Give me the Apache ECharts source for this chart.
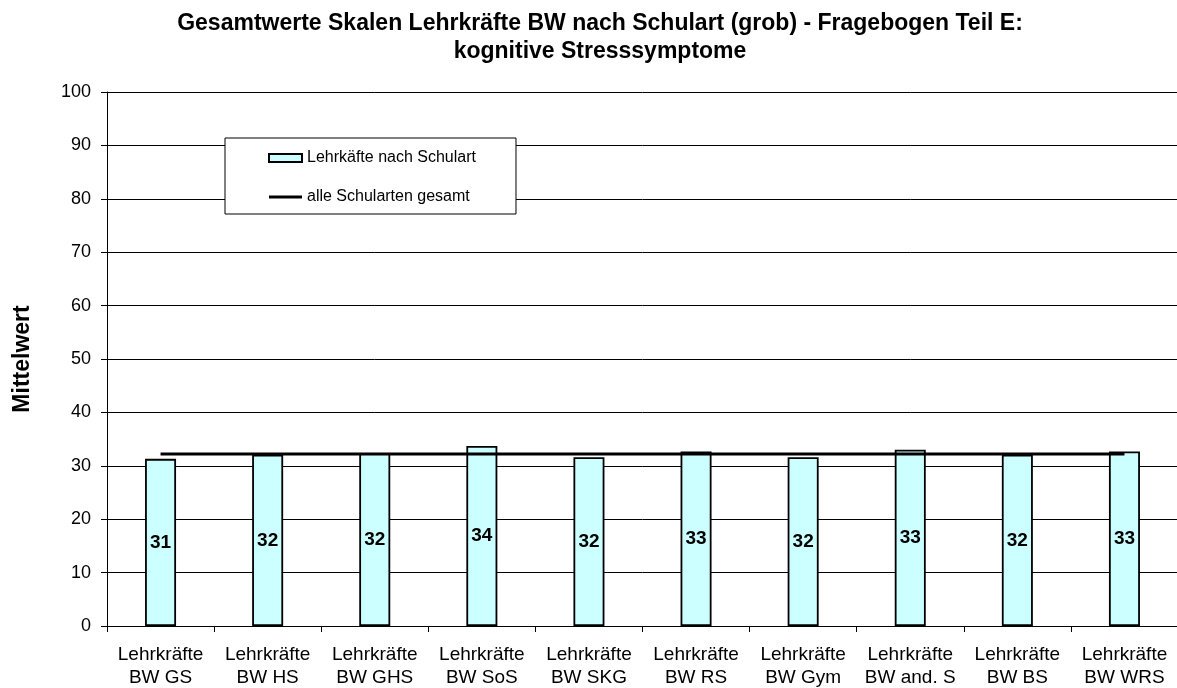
<!DOCTYPE html>
<html>
<head>
<meta charset="utf-8">
<script src="https://cdn.jsdelivr.net/npm/echarts@6/dist/echarts.min.js"></script>
<style>
  html, body { margin: 0; padding: 0; background: #fff; }
  #chart { width: 1177px; height: 688px; }
</style>
</head>
<body>
<div id="chart"></div>
<script>
// data
var categories = [
  'Lehrkräfte\nBW GS', 'Lehrkräfte\nBW HS', 'Lehrkräfte\nBW GHS', 'Lehrkräfte\nBW SoS',
  'Lehrkräfte\nBW SKG', 'Lehrkräfte\nBW RS', 'Lehrkräfte\nBW Gym', 'Lehrkräfte\nBW and. S',
  'Lehrkräfte\nBW BS', 'Lehrkräfte\nBW WRS'
];
var schulartWerte = [31.3, 32.1, 32.4, 33.7, 31.6, 32.7, 31.6, 33.0, 32.1, 32.7];
var gesamtWert = 32.2;
var gesamtLinie = categories.map(function () { return gesamtWert; });

var font = 'Liberation Sans, Arial, sans-serif';

var chart = echarts.init(document.getElementById('chart'), null, { renderer: 'canvas' });

chart.setOption({
  animation: false,
  backgroundColor: '#fff',
  title: {
    text: 'Gesamtwerte Skalen Lehrkräfte BW nach Schulart (grob) - Fragebogen Teil E:\nkognitive Stresssymptome',
    left: 600,
    top: 10,
    textAlign: 'center',
    padding: 0,
    textStyle: {
      fontFamily: font,
      fontSize: 23,
      fontWeight: 'bold',
      color: '#000',
      lineHeight: 28
    }
  },
  legend: {
    orient: 'vertical',
    left: 225,
    top: 138,
    padding: [12, 40, 9, 43],
    itemGap: 23,
    itemWidth: 33,
    itemHeight: 8,
    backgroundColor: '#fff',
    borderColor: '#000',
    borderWidth: 1,
    borderRadius: 0,
    textStyle: { fontFamily: font, fontSize: 16, color: '#000' },
    data: [
      { name: 'Lehrkäfte nach Schulart', icon: 'rect' },
      { name: 'alle Schularten gesamt', icon: 'path://M0,0 L33,0 L33,3 L0,3 Z' }
    ]
  },
  grid: {
    left: 107,
    top: 92,
    width: 1071,
    height: 534,
    outerBoundsMode: 'none'
  },
  xAxis: {
    type: 'category',
    data: categories,
    axisLine: { lineStyle: { color: '#000', width: 1 } },
    axisTick: { show: true, length: 6, lineStyle: { color: '#000' } },
    axisLabel: {
      interval: 0,
      margin: 17,
      fontFamily: font,
      fontSize: 19,
      lineHeight: 23,
      color: '#000'
    }
  },
  yAxis: {
    type: 'value',
    min: 0,
    max: 100,
    interval: 10,
    name: 'Mittelwert',
    nameLocation: 'middle',
    nameRotate: 90,
    nameGap: 73,
    nameTextStyle: { fontFamily: font, fontSize: 23, fontWeight: 'bold', color: '#000' },
    axisLine: { show: true, lineStyle: { color: '#000', width: 1 } },
    axisTick: { show: true, length: 6, lineStyle: { color: '#000' } },
    axisLabel: { margin: 16, fontFamily: font, fontSize: 18, color: '#000' },
    splitLine: { show: true, lineStyle: { color: '#000', width: 1 } }
  },
  series: [
    {
      name: 'Lehrkäfte nach Schulart',
      type: 'bar',
      data: schulartWerte,
      barWidth: 31,
      itemStyle: { color: '#CCFFFF', borderColor: '#000', borderWidth: 1.8 },
      label: {
        show: true,
        position: 'inside',
        fontFamily: font,
        fontSize: 19,
        fontWeight: 'bold',
        color: '#000',
        formatter: function (p) { return Math.round(p.value); }
      },
      z: 2
    },
    {
      name: 'alle Schularten gesamt',
      type: 'line',
      data: gesamtLinie,
      symbol: 'none',
      lineStyle: { color: '#000', width: 3 },
      itemStyle: { color: '#000' },
      z: 3
    }
  ]
});
</script>
</body>
</html>
